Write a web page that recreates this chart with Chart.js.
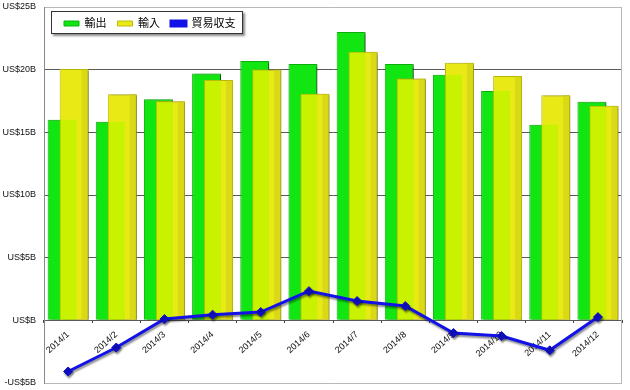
<!DOCTYPE html>
<html>
<head>
<meta charset="utf-8">
<script src="https://cdn.jsdelivr.net/npm/chart.js@4/dist/chart.umd.min.js"></script>
<style>
html,body{margin:0;padding:0;background:#fff;}
#wrap{width:630px;height:390px;position:relative;}
</style>
</head>
<body>
<div id="wrap"><canvas id="c" width="630" height="390"></canvas></div>
<script>
const categories = ['2014/1','2014/2','2014/3','2014/4','2014/5','2014/6','2014/7','2014/8','2014/9','2014/10','2014/11','2014/12'];
const seriesNames = ['輸出','輸入','貿易収支'];
const exportsB = [16.0, 15.85, 17.64, 19.7, 20.7, 20.45, 23.0, 20.45, 19.6, 18.3, 15.6, 17.45];
const importsB = [20.05, 18.03, 17.48, 19.17, 20.02, 18.08, 21.42, 19.3, 20.55, 19.5, 17.95, 17.13];
const balanceB = [-4.08, -2.17, 0.1, 0.45, 0.66, 2.33, 1.54, 1.14, -1.01, -1.25, -2.39, 0.26];
const yTickValues = [-5, 0, 5, 10, 15, 20, 25];
const yTickLabels = ['-US$5B', 'US$B', 'US$5B', 'US$10B', 'US$15B', 'US$20B', 'US$25B'];

const FONT = '"Liberation Sans", Arial, "Noto Sans CJK JP", sans-serif';
const LEGEND_FONT = 11;
const LEGEND_H = LEGEND_FONT + 10 + 10;
const OVERLAP_COLOR = '#c9f200';
const YELLOW_BAND = '#d9d916';

function rectOf(el) {
  const p = el.getProps(['x', 'y', 'base', 'width'], true);
  return { l: p.x - p.width / 2, r: p.x + p.width / 2, t: Math.min(p.y, p.base), b: Math.max(p.y, p.base) };
}
function drawWithColor(ctx, el, color) {
  const o = el.options;
  el.options = Object.assign({}, o, { backgroundColor: color });
  el.draw(ctx);
  el.options = o;
}

const layoutPlugin = {
  id: 'customLayout',
  afterLayout(chart) {
    const lg = chart.legend;
    if (lg) {
      lg.left = 53; lg.top = 7; lg.right = 620; lg.bottom = 40;
      lg.width = lg.right - lg.left; lg.height = lg.bottom - lg.top;
    }
  },
  beforeDatasetsDraw(chart) {
    const ctx = chart.ctx;
    const a = chart.chartArea;
    ctx.save();
    ctx.strokeStyle = '#b8b8b8';
    ctx.lineWidth = 1;
    ctx.beginPath();
    ctx.moveTo(Math.round(a.right) - 0.5, a.top);
    ctx.lineTo(Math.round(a.right) - 0.5, a.bottom);
    ctx.stroke();
    ctx.restore();
    // legend frame
    ctx.save();
    ctx.shadowColor = 'rgba(0,0,0,0.45)';
    ctx.shadowOffsetX = 2; ctx.shadowOffsetY = 2; ctx.shadowBlur = 2;
    ctx.fillStyle = '#fff';
    ctx.fillRect(51, 11, 192, 23);
    ctx.restore();
    ctx.save();
    ctx.strokeStyle = '#333';
    ctx.lineWidth = 1;
    ctx.strokeRect(51.5, 11.5, 191, 22);
    ctx.restore();
    chart.legend.draw();

    const gm = chart.getDatasetMeta(0), ym = chart.getDatasetMeta(1);
    ctx.save();
    ctx.beginPath();
    ctx.rect(a.left, a.top, a.right - a.left, a.bottom - a.top);
    ctx.clip();
    const shadowOn = () => {
      ctx.shadowColor = 'rgba(0,0,0,0.6)';
      ctx.shadowOffsetX = 2; ctx.shadowOffsetY = 1; ctx.shadowBlur = 2;
    };
    ctx.save(); shadowOn(); gm.controller.draw(); ctx.restore();
    ym.data.forEach((el, i) => {
      const r = rectOf(el);
      ctx.save(); shadowOn(); el.draw(ctx); ctx.restore();
      const g = rectOf(gm.data[i]);
      const x0 = Math.max(r.l, g.l), x1 = Math.min(r.r, g.r), y0 = Math.max(r.t, g.t), y1 = Math.min(r.b, g.b);
      if (x1 > x0 && y1 > y0) {
        ctx.save(); ctx.beginPath(); ctx.rect(x0, y0, x1 - x0, y1 - y0); ctx.clip();
        drawWithColor(ctx, el, OVERLAP_COLOR); ctx.restore();
      }
      ctx.save(); ctx.beginPath(); ctx.rect(r.r - 7, r.t, 7, r.b - r.t); ctx.clip();
      drawWithColor(ctx, el, YELLOW_BAND); ctx.restore();
    });
    ctx.save();
    ctx.shadowColor = 'rgba(0,0,0,0.45)';
    ctx.shadowOffsetX = 1; ctx.shadowOffsetY = 2; ctx.shadowBlur = 2;
    chart.getDatasetMeta(2).controller.draw();
    ctx.restore();
    ctx.restore();
    return false;
  }
};

new Chart(document.getElementById('c'), {
  data: {
    labels: categories,
    datasets: [
      {
        type: 'bar', label: seriesNames[0], data: exportsB,
        backgroundColor: '#12e612', borderColor: '#0cb40c', borderWidth: 1,
        categoryPercentage: 0.5, barPercentage: 2.4
      },
      {
        type: 'bar', label: seriesNames[1], data: importsB,
        backgroundColor: '#e9e916', borderColor: '#bcbc0a', borderWidth: 1,
        categoryPercentage: 0.5, barPercentage: 2.4
      },
      {
        type: 'line', label: seriesNames[2], data: balanceB,
        borderColor: '#1212e8', backgroundColor: '#1212e8', borderWidth: 3,
        pointStyle: 'rectRot', pointRadius: 4.5, pointBackgroundColor: '#1010c8',
        pointBorderColor: '#1010c8', pointBorderWidth: 1, tension: 0, fill: false
      }
    ]
  },
  options: {
    responsive: false,
    animation: false,
    devicePixelRatio: 1,
    layout: { padding: { top: 6 - LEGEND_H, right: 8, bottom: 7, left: 0 } },
    plugins: {
      tooltip: { enabled: false },
      legend: {
        display: true, position: 'top', align: 'start',
        labels: {
          font: { family: FONT, size: LEGEND_FONT }, color: '#000',
          boxWidth: 15, boxHeight: 5, padding: 11
        }
      }
    },
    scales: {
      x: {
        type: 'category',
        position: { y: 0 },
        offset: true,
        afterFit(scale) { scale.height = 0; scale.paddingLeft = 0; scale.paddingRight = 0; },
        grid: { offset: true, drawOnChartArea: false, drawTicks: true, tickLength: 3, color: '#444' },
        border: { display: false },
        ticks: {
          autoSkip: false, minRotation: 42, maxRotation: 42, padding: 6,
          font: { family: FONT, size: 9 }, color: '#111'
        }
      },
      y: {
        type: 'linear', position: 'left', min: -5, max: 25,
        afterFit(scale) { scale.width = 44; scale.paddingTop = 0; scale.paddingBottom = 0; },
        afterBuildTicks(scale) { scale.ticks = yTickValues.map(v => ({ value: v })); },
        grid: {
          drawTicks: false,
          color: (c) => (c.tick && (c.tick.value === 25 || c.tick.value === -5)) ? '#b8b8b8' : '#5a5a5a',
          lineWidth: 1
        },
        border: { display: true, color: '#8a8a8a', width: 1 },
        ticks: {
          padding: 8, font: { family: FONT, size: 9 }, color: '#111',
          callback: (v) => { const i = yTickValues.indexOf(v); return i >= 0 ? yTickLabels[i] : ''; }
        }
      }
    }
  },
  plugins: [layoutPlugin]
});
</script>
</body>
</html>
